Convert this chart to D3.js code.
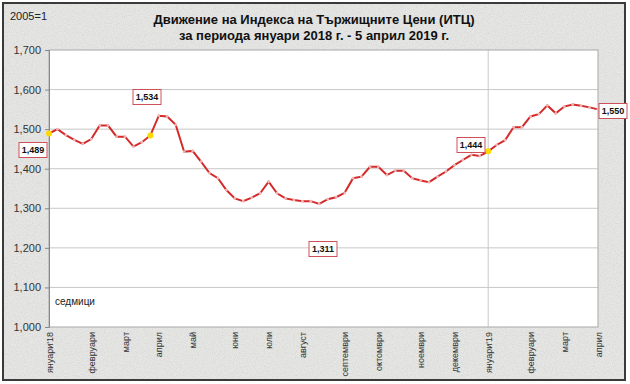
<!DOCTYPE html>
<html><head><meta charset="utf-8">
<script src="https://cdn.jsdelivr.net/npm/d3@7"></script>
<style>body{margin:0;background:#fff}svg{display:block}text{font-family:"Liberation Sans",Arial,sans-serif}</style>
</head><body><svg id="c" width="630" height="384"></svg>
<script>
const values = [1489,1500,1485,1473,1463,1475,1509,1509,1481,1481,1456,1467,1484,1534,1532,1511,1443,
1445,1418,1389,1376,1346,1325,1318,1327,1338,1367,1338,1325,1321,1318,1318,1311,
1323,1328,1339,1376,1380,1405,1405,1384,1395,1395,1376,1370,1366,1380,1393,1409,
1422,1435,1432,1444,1460,1472,1505,1505,1532,1538,1560,1540,1557,1562,1559,1555,1550];
const monthLabels = ["януари'18","февруари","март","април","май","юни","юли","август","септември","октомври","ноември","декември","януари'19","февруари","март","април"];
const monthWeek = [0,5,9,13,17,22,26,30,35,39,44,48,52,57,61,65];
const yTicks = [1000,1100,1200,1300,1400,1500,1600,1700];
const highlighted = [0,12,52];
const callouts = [0,13,32,52,65];
const titleLines = ["Движение на Индекса на Тържищните Цени (ИТЦ)","за периода януари 2018 г. - 5 април 2019 г."];

const svg = d3.select("#c");
const defs = svg.append("defs");
const f = defs.append("filter").attr("id","noise").attr("x",0).attr("y",0).attr("width","100%").attr("height","100%");
f.append("feTurbulence").attr("type","fractalNoise").attr("baseFrequency",0.9).attr("numOctaves",2).attr("seed",3).attr("result","t");
f.append("feColorMatrix").attr("in","t").attr("type","matrix")
 .attr("values","0 0 0 0 0.55  0 0 0 0 0.55  0 0 0 0 0.55  0 0 0 0.9 -0.35");

svg.append("rect").attr("x",0).attr("y",0).attr("width",630).attr("height",384).attr("fill","#fff");
svg.append("rect").attr("x",3).attr("y",3).attr("width",622).attr("height",377).attr("fill","#e6e6e4");
svg.append("rect").attr("x",3).attr("y",3).attr("width",622).attr("height",377).attr("filter","url(#noise)");
svg.append("rect").attr("x",3).attr("y",3).attr("width",622).attr("height",377).attr("fill","none").attr("stroke","#3a3a3a").attr("stroke-width",2);

const L=49,R=598,T=50,B=327;
const x = d3.scaleLinear().domain([0,values.length-1]).range([L,R]);
const y = d3.scaleLinear().domain([1000,1700]).range([B,T]);

svg.append("rect").attr("x",L).attr("y",T).attr("width",R-L).attr("height",B-T).attr("fill","#fff");

// grid
svg.append("g").selectAll("line").data(yTicks.slice(1,-1)).join("line")
 .attr("x1",L).attr("x2",R).attr("y1",d=>y(d)).attr("y2",d=>y(d)).attr("stroke","#c8c8c8").attr("stroke-width",1);
svg.append("line").attr("x1",x(52)).attr("x2",x(52)).attr("y1",T).attr("y2",B).attr("stroke","#c8c8c8");
svg.append("rect").attr("x",L).attr("y",T).attr("width",R-L).attr("height",B-T).attr("fill","none").attr("stroke","#a8a8a8");

// y axis
const ya = svg.append("g").attr("transform",`translate(${L},0)`)
 .call(d3.axisLeft(y).tickValues(yTicks).tickFormat(d3.format(",")).tickSize(4).tickPadding(4));
ya.select(".domain").attr("stroke","#888");
ya.selectAll(".tick line").attr("stroke","#888");
ya.selectAll("text").attr("font-size","11px").attr("fill","#333").attr("font-family","Liberation Sans, Arial, sans-serif");

// x axis
const xa = svg.append("g").attr("transform",`translate(0,${B})`)
 .call(d3.axisBottom(x).tickValues(monthWeek).tickFormat((d,i)=>monthLabels[i]).tickSize(0));
xa.select(".domain").remove();
xa.selectAll("text").attr("font-size","9px").attr("fill","#333").attr("font-family","Liberation Sans, Arial, sans-serif")
 .attr("text-anchor","end").attr("transform","rotate(-90)").attr("x",-5).attr("y",0).attr("dy","0.35em");

// line
svg.append("path").datum(values).attr("fill","none").attr("stroke","#d42a2a").attr("stroke-width",2)
 .attr("d",d3.line().x((d,i)=>x(i)).y(d=>y(d)));
svg.append("g").selectAll("circle").data(values).join("circle")
 .attr("cx",(d,i)=>x(i)).attr("cy",d=>y(d)).attr("r",1.4).attr("fill","#f2b4b4");
svg.append("g").selectAll("circle").data(highlighted).join("circle")
 .attr("cx",i=>x(i)).attr("cy",i=>y(values[i])).attr("r",3).attr("fill","#ffd800");

// callouts
const cpos = {0:[33,150],13:[147,97],32:[323,249],52:[471,145],65:[613,111]};
const cg = svg.append("g").selectAll("g").data(callouts).join("g").attr("transform",i=>`translate(${cpos[i][0]},${cpos[i][1]})`);
cg.append("rect").attr("x",-14).attr("y",-7.5).attr("width",28).attr("height",15).attr("fill","#fff").attr("stroke","#d0505a").attr("stroke-width",1);
cg.append("text").attr("text-anchor","middle").attr("dy","0.35em").attr("font-size","9px").attr("font-weight","bold").attr("fill","#111")
 .text(i=>d3.format(",")(values[i]));

// texts
svg.append("text").attr("x",10).attr("y",20).attr("font-size","11px").attr("fill","#222").text("2005=1");
svg.append("g").selectAll("text").data(titleLines).join("text").attr("x",314).attr("y",(d,i)=>24+i*16)
 .attr("text-anchor","middle").attr("font-size","13px").attr("font-weight","bold").attr("fill","#111").text(d=>d);
svg.append("text").attr("x",55).attr("y",305).attr("font-size","10px").attr("fill","#222").text("седмици");
</script></body></html>
